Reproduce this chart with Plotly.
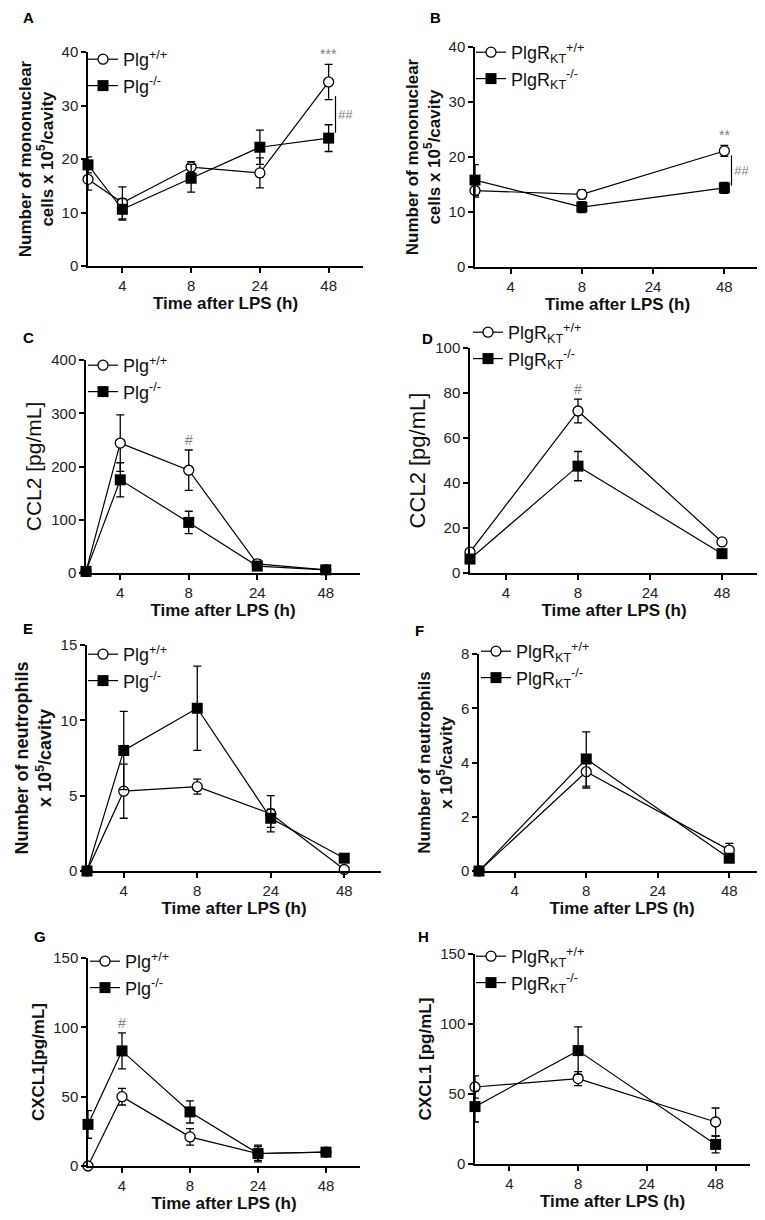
import plotly.graph_objects as go

# the page adds a margin above the figure, so the figure is a bit shorter
# than the window and vertical pixel positions are shifted by it
PAGE_W, PAGE_H = 765, 1220
OFF_X, OFF_Y = 0, 8
W, H = PAGE_W - OFF_X, PAGE_H - OFF_Y

# time points (h) and where they sit on the broken time axis
times = [0, 4, 8, 24, 48]
time_pos = {0: 0, 4: 1, 8: 3, 24: 5, 48: 7}
tick_labels = ['4', '8', '24', '48']

times_kt = [0, 8, 48]

# A: mononuclear cells, Plg
a_wt = [16.2, 11.8, 18.5, 17.4, 34.4]
a_wt_err = [2.0, 3.0, 1.0, 2.8, 3.3]
a_ko = [18.9, 10.6, 16.4, 22.2, 23.9]
a_ko_err = [1.5, 2.0, 2.6, 3.2, 2.5]

# B: mononuclear cells, PlgR-KT
b_wt = [13.9, 13.2, 21.1]
b_wt_err = [1.2, 0.8, 1.0]
b_ko = [15.8, 10.9, 14.4]
b_ko_err = [2.8, 1.0, 1.0]

# C: CCL2, Plg
c_wt = [3, 244, 193, 17, 6]
c_wt_err = [2, 53, 38, 8, 3]
c_ko = [3, 175, 95, 13, 6]
c_ko_err = [2, 32, 21, 5, 3]

# D: CCL2, PlgR-KT
d_wt = [9.3, 72.0, 13.8]
d_wt_err = [1.0, 5.3, 1.0]
d_ko = [6.2, 47.5, 8.6]
d_ko_err = [1.0, 6.5, 1.0]

# E: neutrophils, Plg
e_wt = [0.0, 5.3, 5.6, 3.8, 0.1]
e_wt_err = [0.0, 1.8, 0.5, 1.2, 0.1]
e_ko = [0.0, 8.0, 10.8, 3.5, 0.85]
e_ko_err = [0.0, 2.6, 2.8, 0.6, 0.1]

# F: neutrophils, PlgR-KT
f_wt = [0.0, 3.66, 0.77]
f_wt_err = [0.0, 0.6, 0.25]
f_ko = [0.0, 4.13, 0.47]
f_ko_err = [0.0, 1.0, 0.15]

# G: CXCL1, Plg
g_wt = [0, 50, 21, 9, 10]
g_wt_err = [0, 6, 6, 5, 1]
g_ko = [30, 83, 39, 9, 10]
g_ko_err = [10, 13, 8, 6, 1]

# H: CXCL1, PlgR-KT
h_wt = [55, 61, 30]
h_wt_err = [8, 5, 10]
h_ko = [41, 81, 14]
h_ko_err = [11, 17, 6]

PLG_NAMES = ['Plg<sup>+/+</sup>', 'Plg<sup>-/-</sup>']
KT_NAMES = ['PlgR<sub>KT</sub><sup>+/+</sup>', 'PlgR<sub>KT</sub><sup>-/-</sup>']

MONO = 'Number of mononuclear<br>cells x 10<sup>5</sup>/cavity'
NEUT = 'Number of neutrophils<br>x 10<sup>5</sup>/cavity'

# letter, x-left, x-right, y-top, y-bottom (pixels), y max, dtick, y title,
# title weight, title size, times, wt, wt err, ko, ko err, names,
# legend (x, y) pixels, letter position
panels = [
    ('A', 80, 355, 52, 266, 40, 10, MONO, 'bold', 17, times,
     a_wt, a_wt_err, a_ko, a_ko_err, PLG_NAMES, (75, 41), (13, 17)),
    ('B', 467, 752, 47, 267, 40, 10, MONO, 'bold', 17, times_kt,
     b_wt, b_wt_err, b_ko, b_ko_err, KT_NAMES, (463, 34), (420, 17)),
    ('C', 78, 352, 360, 573, 400, 100, 'CCL2 [pg/mL]', 'normal', 21, times,
     c_wt, c_wt_err, c_ko, c_ko_err, PLG_NAMES, (75, 347), (13, 337)),
    ('D', 462, 750, 348, 573, 100, 20, 'CCL2 [pg/mL]', 'normal', 22, times_kt,
     d_wt, d_wt_err, d_ko, d_ko_err, KT_NAMES, (460, 314), (412, 339)),
    ('E', 79, 373, 645, 871, 15, 5, NEUT, 'bold', 18, times,
     e_wt, e_wt_err, e_ko, e_ko_err, PLG_NAMES, (75, 636), (13, 628)),
    ('F', 471, 757, 654, 871, 8, 2, NEUT, 'bold', 17, times_kt,
     f_wt, f_wt_err, f_ko, f_ko_err, KT_NAMES, (468, 633), (405, 630)),
    ('G', 80, 352, 958, 1166, 150, 50, 'CXCL1[pg/mL]', 'bold', 17, times,
     g_wt, g_wt_err, g_ko, g_ko_err, PLG_NAMES, (77, 943), (24, 936)),
    ('H', 467, 742, 954, 1164, 150, 50, 'CXCL1 [pg/mL]', 'bold', 17, times_kt,
     h_wt, h_wt_err, h_ko, h_ko_err, KT_NAMES, (463, 938), (408, 936)),
]

FONT = 'Liberation Sans, Arial, sans-serif'
GREY = '#808080'


def fx(x):
    return (x - OFF_X) / W


def fy(y):
    return 1 - (y - OFF_Y) / H


fig = go.Figure()
annotations = []
shapes = []
layout = {}

for i, p in enumerate(panels):
    (letter, xl, xr, yt, yb, ymax, dt, ytitle, weight, tsize, t,
     wt, wt_err, ko, ko_err, names, leg, lpos) = p
    n = i + 1
    sfx = '' if n == 1 else str(n)
    xs = [time_pos[v] for v in t]
    leg_id = 'legend' + sfx

    fig.add_trace(go.Scatter(
        x=xs, y=wt, name=names[0], mode='lines+markers',
        xaxis='x' + sfx, yaxis='y' + sfx, legend=leg_id,
        line=dict(color='black', width=1.2),
        marker=dict(symbol='circle', size=10, color='white',
                    line=dict(color='black', width=1.3)),
        error_y=dict(type='data', array=wt_err, color='black',
                     thickness=1.3, width=4),
        cliponaxis=False))
    fig.add_trace(go.Scatter(
        x=xs, y=ko, name=names[1], mode='lines+markers',
        xaxis='x' + sfx, yaxis='y' + sfx, legend=leg_id,
        line=dict(color='black', width=1.2),
        marker=dict(symbol='square', size=11, color='black'),
        error_y=dict(type='data', array=ko_err, color='black',
                     thickness=1.3, width=4),
        cliponaxis=False))

    axis_common = dict(showline=True, linecolor='black', linewidth=1.5,
                       ticks='outside', ticklen=5, tickwidth=1.5,
                       tickcolor='black', showgrid=False, zeroline=False,
                       tickfont=dict(family=FONT, size=15, color='#222'))
    layout['xaxis' + sfx] = dict(
        axis_common, domain=[fx(xl), fx(xr)], anchor='y' + sfx,
        range=[0, 8], tickvals=[1, 3, 5, 7], ticktext=tick_labels,
        title=dict(text='<b>Time after LPS (h)</b>', standoff=4,
                   font=dict(family=FONT, size=17, color='#111')))
    ytxt = '<b>%s</b>' % ytitle if weight == 'bold' else ytitle
    layout['yaxis' + sfx] = dict(
        axis_common, domain=[fy(yb), fy(yt)], anchor='x' + sfx,
        range=[0, ymax], dtick=dt,
        title=dict(text=ytxt, standoff=4,
                   font=dict(family=FONT, size=tsize, color='#111')))
    layout[leg_id] = dict(
        x=fx(leg[0]), y=fy(leg[1]), xanchor='left', yanchor='top',
        bgcolor='rgba(0,0,0,0)', tracegroupgap=0, itemwidth=30,
        font=dict(family=FONT, size=18, color='#111'))

    annotations.append(dict(
        text='<b>%s</b>' % letter, x=fx(lpos[0]), y=fy(lpos[1]),
        xref='paper', yref='paper', xanchor='left', yanchor='middle',
        showarrow=False, font=dict(family=FONT, size=15, color='black')))

# significance marks
sig = [
    # panel index, time, text, series used for the offset
    (0, 48, '***', 'wt'),
    (1, 48, '**', 'wt'),
    (2, 8, '#', 'wt'),
    (3, 8, '#', 'wt'),
    (6, 4, '#', 'ko'),
]
for idx, tm, txt, which in sig:
    p = panels[idx]
    t = p[10]
    j = t.index(tm)
    vals, errs = (p[11], p[12]) if which == 'wt' else (p[13], p[14])
    sfx = '' if idx == 0 else str(idx + 1)
    annotations.append(dict(
        text=txt, x=time_pos[tm], y=vals[j] + errs[j],
        xref='x' + sfx, yref='y' + sfx, yanchor='bottom', yshift=0,
        showarrow=False, font=dict(family=FONT, size=14, color=GREY)))

# ## brackets between genotypes at 48 h in A and B
for idx in (0, 1):
    p = panels[idx]
    t = p[10]
    j = t.index(48)
    sfx = '' if idx == 0 else str(idx + 1)
    top = p[11][j] - p[12][j] * 0.8
    bot = p[13][j] + p[14][j] * 0.4
    shapes.append(dict(type='line', xref='x' + sfx, yref='y' + sfx,
                       x0=7.2, x1=7.2, y0=bot, y1=top,
                       line=dict(color='black', width=1.2)))
    annotations.append(dict(
        text='<i>##</i>', x=7.22, y=(top + bot) / 2,
        xref='x' + sfx, yref='y' + sfx, xanchor='left',
        showarrow=False, font=dict(family=FONT, size=13, color=GREY)))

fig.update_layout(
    width=W, height=H,
    margin=dict(l=0, r=0, t=0, b=0, pad=0, autoexpand=False),
    paper_bgcolor='white', plot_bgcolor='white',
    showlegend=True, annotations=annotations, shapes=shapes,
    font=dict(family=FONT), **layout)

fig.write_html('out.html')
